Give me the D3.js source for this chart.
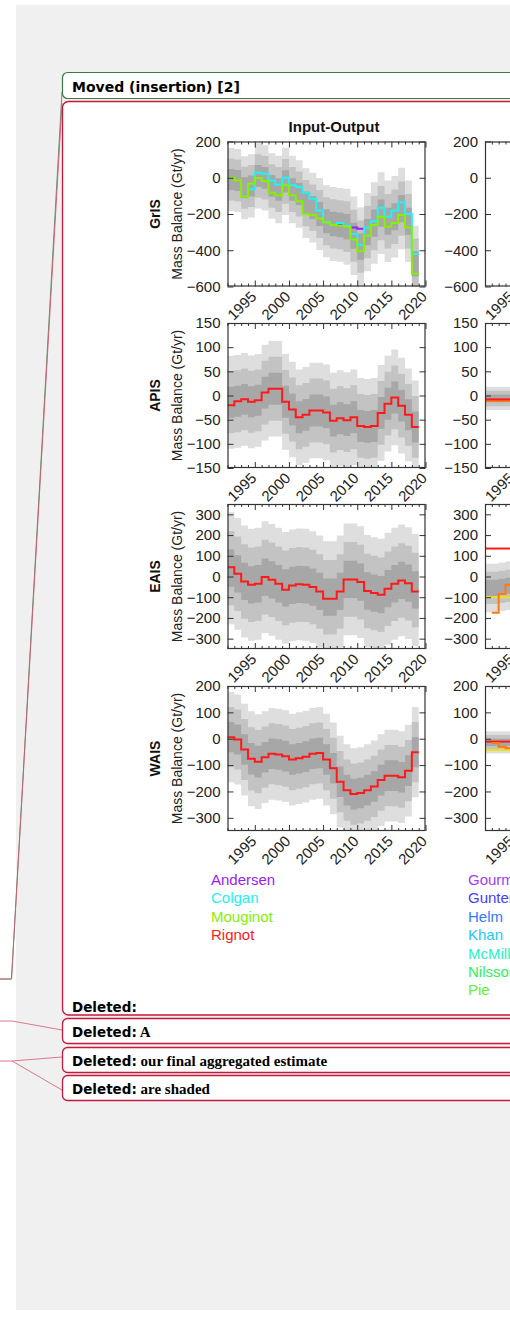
<!DOCTYPE html>
<html>
<head>
<meta charset="utf-8">
<script src="https://cdn.jsdelivr.net/npm/d3@7/dist/d3.min.js"></script>
<style>
  html, body { margin: 0; padding: 0; background: #ffffff; }
  svg { display: block; }
</style>
</head>
<body>
<svg id="page" width="510" height="1325"></svg>
<script>
// ---------- data ----------
const firstYear = 1991;                       // each value covers [year, year + 1]
const xTickYears = [1995, 2000, 2005, 2010, 2015, 2020];
const panelNames = ["GrIS", "APIS", "EAIS", "WAIS"];
const yDomains = [[-600, 200], [-150, 150], [-350, 350], [-350, 200]];
const yTickValues = [
  [200, 0, -200, -400, -600],
  [150, 100, 50, 0, -50, -100, -150],
  [300, 200, 100, 0, -100, -200, -300],
  [200, 100, 0, -100, -200, -300]
];

// Input-Output column: mass balance (Gt/yr), 1991 .. 2018
const _ = null;
const grisAndersen = [_, _, _, _, _, _, _, _, _, _, _, _, _, _, _, _, -262, -268, -275, -282, _, _, _, _, _, _, _, _];
const grisColgan   = [_, _, _, -64, 28, 22, -15, -39, 0, -42, -51, -83, -116, -180, -245, -259, -250, -265, -310, -370, -275, -240, -165, -215, -180, -135, -200, -420];
const grisMouginot = [0, -15, -103, -33, -2, -18, -83, -97, -42, -97, -130, -200, -205, -225, -245, -260, -265, -270, -340, -405, -320, -260, -215, -270, -250, -205, -275, -530];
const apisRignot   = [-20, -12, -8, -13, -10, 6, 14, 14, -13, -29, -45, -40, -31, -31, -35, -52, -47, -51, -45, -63, -65, -63, -36, -17, -4, -21, -40, -65];
const eaisRignot   = [45, 13, -24, -40, -35, -3, -16, -35, -64, -43, -38, -40, -51, -72, -107, -107, -72, -14, -14, -27, -70, -80, -88, -59, -35, -19, -32, -72];
const waisRignot   = [6, -3, -41, -76, -87, -70, -57, -60, -66, -79, -74, -68, -57, -54, -79, -112, -163, -195, -210, -206, -195, -181, -157, -140, -140, -146, -121, -51];

// aggregated estimate and its spread, 1991 .. 2018
const grisCenter = [-10, -15, -55, -45, 10, 0, -45, -65, -20, -65, -90, -140, -165, -200, -240, -255, -260, -270, -320, -380, -300, -250, -195, -240, -215, -170, -240, -475];
const grisSigma  = [58, 58, 58, 58, 60, 60, 60, 62, 62, 62, 62, 64, 64, 66, 66, 68, 68, 70, 72, 72, 72, 75, 75, 75, 75, 75, 75, 70];
const apisCenter = [-14, -12, -8, -13, -10, 6, 14, 14, -13, -29, -45, -40, -31, -31, -35, -52, -47, -51, -45, -63, -65, -63, -36, -17, -4, -21, -40, -65];
const apisSigma  = [32, 32, 32, 32, 32, 33, 33, 33, 33, 33, 33, 33, 33, 33, 33, 33, 33, 33, 33, 33, 33, 33, 33, 33, 33, 33, 32, 32];
const eaisCenter = [40, 13, -24, -40, -35, -3, -16, -35, -55, -43, -38, -40, -51, -72, -100, -100, -72, -14, -14, -27, -70, -80, -88, -59, -35, -19, -32, -65];
const eaisSigma  = [90, 90, 90, 90, 90, 90, 90, 90, 90, 90, 90, 90, 90, 90, 90, 90, 90, 90, 90, 90, 90, 90, 90, 90, 90, 90, 90, 90];
const waisCenter = [6, -3, -41, -76, -87, -70, -57, -60, -66, -79, -74, -68, -57, -54, -79, -112, -163, -195, -210, -206, -195, -181, -157, -140, -140, -146, -121, -51];
const waisSigma  = [57, 57, 58, 60, 60, 58, 58, 58, 58, 58, 58, 58, 58, 58, 58, 58, 58, 58, 58, 58, 58, 58, 58, 58, 58, 58, 58, 57];

// Altimetry column, 1991 .. 1994
const altApisCenter = [-6, -6, -6, -6];
const altApisSigma  = [8, 8, 8, 8];
const altApisRed    = [-8, -8, -8, -8];
const altApisOrange = [-11, -11, -11, -11];
const altEaisCenter = [-55, -55, -50, -45];
const altEaisSigma  = [39, 39, 39, 39];
const altEaisRed    = [135, 135, 135, 135];
const altEaisOrange = [_, -175, -85, -40];
const altEaisYellow = [-100, -100, -100, -100];
const altWaisCenter = [-14, -14, -14, -14];
const altWaisSigma  = [14, 14, 14, 14];
const altWaisRed    = [-11, -11, -11, -11];
const altWaisOrange = [_, -16, -30, -36];
const altWaisYellow = [-43, -43, -43, -43];

const ioNames  = ["Andersen", "Colgan", "Mouginot", "Rignot"];
const ioColors = ["#9a1cff", "#22f2f2", "#86f000", "#ff1a1a"];
const altNames  = ["Gourmelen", "Gunter", "Helm", "Khan", "McMillan", "Nilsson", "Pie"];
const altColors = ["#a23cff", "#4a3cff", "#2f7cff", "#24c6ff", "#1ff2c8", "#2ef05a", "#66f02a"];
const lineRed = "#ff1a1a", lineOrange = "#ff7a10", lineYellow = "#ece21a";

// ---------- page ----------
const pageW = 510;
const svg = d3.select("#page");
const serif = "'Liberation Serif', 'Times New Roman', serif";
const uiFont = "'DejaVu Sans', Verdana, sans-serif";
const chartFont = "'Liberation Sans', Arial, Helvetica, sans-serif";
const boxRed = "#c8173a";

svg.append("rect").attr("x", 16).attr("y", 5).attr("width", 494).attr("height", 1305).attr("fill", "#f0f0f0");

// balloon connectors
const conn = svg.append("g").attr("fill", "none");
conn.append("polyline").attr("points", "0,979 11.5,979 62,92").attr("stroke", "#5f9a6c").attr("stroke-width", 1);
conn.append("polyline").attr("points", "0,979 11.5,979 62,103").attr("stroke", "#cf5a74").attr("stroke-width", 1).attr("stroke-opacity", 0.9);
conn.append("polyline").attr("points", "0,1021 12,1021 62,1030").attr("stroke", "#d77a8e").attr("stroke-width", 1);
conn.append("polyline").attr("points", "0,1061 12,1061 62,1057").attr("stroke", "#d77a8e").attr("stroke-width", 1);
conn.append("polyline").attr("points", "12,1061 62,1090").attr("stroke", "#d77a8e").attr("stroke-width", 1);

// balloons
svg.append("rect").attr("x", 62.5).attr("y", 72.5).attr("width", 520).attr("height", 26)
  .attr("rx", 5).attr("fill", "#fff").attr("stroke", "#3d7448").attr("stroke-width", 1.2);
svg.append("text").attr("x", 72).attr("y", 91.5).attr("font-family", uiFont).attr("font-weight", "bold")
  .attr("font-size", 14).attr("fill", "#000").text("Moved (insertion) [2]");

svg.append("rect").attr("x", 62.5).attr("y", 101.5).attr("width", 520).attr("height", 913.5)
  .attr("rx", 6).attr("fill", "#fff").attr("stroke", boxRed).attr("stroke-width", 1.3);

const balloons = [
  { y: 1018.5, h: 25, text: "A" },
  { y: 1047.5, h: 25, text: "our final aggregated estimate" },
  { y: 1075.5, h: 25, text: "are shaded" }
];
balloons.forEach(b => {
  svg.append("rect").attr("x", 62.5).attr("y", b.y).attr("width", 520).attr("height", b.h)
    .attr("rx", 5).attr("fill", "#fff").attr("stroke", boxRed).attr("stroke-width", 1.3);
});
const delLabel = (yy, extra) => {
  const t = svg.append("text").attr("x", 72).attr("y", yy).attr("font-size", 13.5).attr("fill", "#000");
  t.append("tspan").attr("font-family", uiFont).attr("font-weight", "bold").text("Deleted:");
  if (extra) t.append("tspan").attr("font-family", serif).attr("font-weight", "bold").attr("font-size", 15).text(" " + extra);
};
delLabel(1011.5, null);
balloons.forEach(b => delLabel(b.y + b.h - 7, b.text));

// ---------- chart ----------
const chart = svg.append("g").attr("font-family", chartFont);
const plotH = 145;
const panelTops = [141.5, 323, 504, 686];
const columns = [
  { left: 227.5, width: 198, title: "Input-Output" },
  { left: 485, width: 198, title: null }
];

const defs = svg.append("defs");

function stepRuns(vals) {
  const runs = []; let cur = null;
  vals.forEach((v, i) => {
    if (v == null) { if (cur) { runs.push(cur); cur = null; } return; }
    if (!cur) cur = [];
    cur.push({ t: firstYear + i, v: v });
  });
  if (cur) runs.push(cur);
  return runs.map(r => r.concat([{ t: r[r.length - 1].t + 1, v: r[r.length - 1].v }]));
}

function bandPoints(center, sigma) {
  const pts = center.map((c, i) => ({ t: firstYear + i, c: c, s: sigma[i] }));
  const last = pts[pts.length - 1];
  pts.push({ t: last.t + 1, c: last.c, s: last.s });
  return pts;
}

const bandShades = [[3, "#dedede"], [2, "#c3c3c3"], [1, "#a7a7a7"]];

function drawPanel(colIdx, pIdx, bands, series) {
  const col = columns[colIdx];
  const top = panelTops[pIdx];
  const x = d3.scaleLinear().domain([1991, 2020]).range([col.left, col.left + col.width]);
  const y = d3.scaleLinear().domain(yDomains[pIdx]).range([top + plotH, top]);
  const g = chart.append("g");
  const clipId = `clip-${colIdx}-${pIdx}`;
  defs.append("clipPath").attr("id", clipId).append("rect")
    .attr("x", col.left).attr("y", top).attr("width", col.width).attr("height", plotH);

  g.append("rect").attr("x", col.left).attr("y", top).attr("width", col.width).attr("height", plotH).attr("fill", "#fff");
  const inner = g.append("g").attr("clip-path", `url(#${clipId})`);

  if (bands) {
    const pts = bandPoints(bands.center, bands.sigma);
    bandShades.forEach(([k, fill]) => {
      const area = d3.area().curve(d3.curveStepAfter)
        .x(d => x(d.t)).y0(d => y(d.c - k * d.s)).y1(d => y(d.c + k * d.s));
      inner.append("path").datum(pts).attr("d", area).attr("fill", fill);
    });
  }
  const line = d3.line().curve(d3.curveStepAfter).x(d => x(d.t)).y(d => y(d.v));
  series.forEach(s => {
    stepRuns(s.values).forEach(run => {
      inner.append("path").datum(run).attr("d", line).attr("fill", "none")
        .attr("stroke", s.color).attr("stroke-width", 2);
    });
  });

  // axes (ticks point inward on all four sides)
  const axisStyle = sel => {
    sel.select(".domain").remove();
    sel.selectAll(".tick line").attr("stroke", "#333").attr("stroke-width", 1);
    sel.selectAll("text").attr("font-family", chartFont).attr("font-size", 15).attr("fill", "#222");
  };
  // only years whose tick falls on the page get a label
  const labelYears = xTickYears.filter(yr => x(yr) < pageW + 5);
  const minorYears = d3.range(1991, 2021).filter(v => v % 5 !== 0);

  g.append("g").attr("transform", `translate(${col.left},0)`)
    .call(d3.axisLeft(y).tickValues(yTickValues[pIdx]).tickSize(-6).tickPadding(7).tickFormat(d3.format("d")))
    .call(axisStyle);
  g.append("g").attr("transform", `translate(${col.left + col.width},0)`)
    .call(d3.axisRight(y).tickValues(yTickValues[pIdx]).tickSize(-6).tickFormat(""))
    .call(axisStyle);
  g.append("g").attr("transform", `translate(0,${top + plotH})`)
    .call(d3.axisBottom(x).tickValues(minorYears).tickSize(-3).tickFormat(""))
    .call(axisStyle);
  g.append("g").attr("transform", `translate(0,${top})`)
    .call(d3.axisTop(x).tickValues(minorYears).tickSize(-3).tickFormat(""))
    .call(axisStyle);
  g.append("g").attr("transform", `translate(0,${top})`)
    .call(d3.axisTop(x).tickValues(xTickYears).tickSize(-6).tickFormat(""))
    .call(axisStyle);
  g.append("g").attr("transform", `translate(0,${top + plotH})`)
    .call(d3.axisBottom(x).tickValues(xTickYears).tickSize(-6).tickFormat(""))
    .call(axisStyle);
  const xb = g.append("g").attr("transform", `translate(0,${top + plotH})`)
    .call(d3.axisBottom(x).tickValues(labelYears).tickSize(0).tickFormat(d3.format("d")))
    .call(axisStyle);
  xb.selectAll("text")
    .attr("x", 2).attr("y", 11).attr("dy", null)
    .attr("text-anchor", "end")
    .attr("transform", "rotate(-45 2 11)");

  g.append("rect").attr("x", col.left + 0.5).attr("y", top + 0.5)
    .attr("width", col.width - 1).attr("height", plotH - 1)
    .attr("fill", "none").attr("stroke", "#333").attr("stroke-width", 1.2);

  if (colIdx === 0) {
    const cy = top + plotH / 2;
    chart.append("text").attr("transform", `translate(160,${cy}) rotate(-90)`)
      .attr("text-anchor", "middle").attr("font-size", 14).attr("font-weight", "bold").attr("fill", "#111")
      .text(panelNames[pIdx]);
    chart.append("text").attr("transform", `translate(182,${cy}) rotate(-90)`)
      .attr("text-anchor", "middle").attr("font-size", 14).attr("fill", "#222")
      .text("Mass Balance (Gt/yr)");
  }
}

// Input-Output column
drawPanel(0, 0, { center: grisCenter, sigma: grisSigma }, [
  { values: grisAndersen, color: ioColors[0] },
  { values: grisColgan, color: ioColors[1] },
  { values: grisMouginot, color: ioColors[2] }
]);
drawPanel(0, 1, { center: apisCenter, sigma: apisSigma }, [{ values: apisRignot, color: ioColors[3] }]);
drawPanel(0, 2, { center: eaisCenter, sigma: eaisSigma }, [{ values: eaisRignot, color: ioColors[3] }]);
drawPanel(0, 3, { center: waisCenter, sigma: waisSigma }, [{ values: waisRignot, color: ioColors[3] }]);

// Altimetry column
drawPanel(1, 0, null, []);
drawPanel(1, 1, { center: altApisCenter, sigma: altApisSigma }, [
  { values: altApisOrange, color: lineOrange },
  { values: altApisRed, color: lineRed }
]);
drawPanel(1, 2, { center: altEaisCenter, sigma: altEaisSigma }, [
  { values: altEaisRed, color: lineRed },
  { values: altEaisYellow, color: lineYellow },
  { values: altEaisOrange, color: lineOrange }
]);
drawPanel(1, 3, { center: altWaisCenter, sigma: altWaisSigma }, [
  { values: altWaisRed, color: lineRed },
  { values: altWaisYellow, color: lineYellow },
  { values: altWaisOrange, color: lineOrange }
]);

chart.append("text").attr("x", 334).attr("y", 131.5).attr("text-anchor", "middle")
  .attr("font-size", 15).attr("font-weight", "bold").attr("fill", "#111").text(columns[0].title);

// legends
const legendTop = 885, legendStep = 18.4;
chart.append("g").selectAll("text").data(ioNames).join("text")
  .attr("x", 211).attr("y", (d, i) => legendTop + i * legendStep)
  .attr("font-size", 15).attr("fill", (d, i) => ioColors[i]).text(d => d);
chart.append("g").selectAll("text").data(altNames).join("text")
  .attr("x", 468).attr("y", (d, i) => legendTop + i * legendStep)
  .attr("font-size", 15).attr("fill", (d, i) => altColors[i]).text(d => d);
</script>
</body>
</html>
